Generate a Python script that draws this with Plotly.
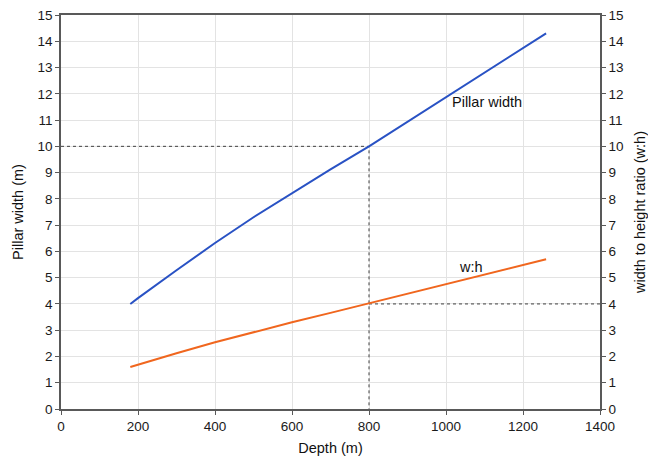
import plotly.graph_objects as go

depth = [180, 200, 300, 400, 500, 600, 700, 800, 900, 1000, 1100, 1200, 1260]
pillar_width = [4.0, 4.22, 5.28, 6.32, 7.3, 8.22, 9.12, 10.0, 10.94, 11.87, 12.8, 13.73, 14.3]
wh_ratio = [1.6, 1.69, 2.12, 2.54, 2.93, 3.3, 3.66, 4.02, 4.38, 4.74, 5.1, 5.46, 5.7]

ref_depth = 800
ref_width = 10
ref_ratio = 4
x_max = 1400

font = "Liberation Sans"
grid = "#e3e3e3"
axis_col = "#595959"

fig = go.Figure()
# reference dotted lines
fig.add_trace(go.Scatter(x=[0, ref_depth, ref_depth], y=[ref_width, ref_width, 0], mode="lines",
                         line=dict(color="#404040", width=1, dash="dot"), hoverinfo="skip"))
fig.add_trace(go.Scatter(x=[ref_depth, x_max], y=[ref_ratio, ref_ratio], mode="lines",
                         line=dict(color="#404040", width=1, dash="dot"), yaxis="y2", hoverinfo="skip"))
fig.add_trace(go.Scatter(x=depth, y=pillar_width, mode="lines", name="Pillar width",
                         line=dict(color="#2952c4", width=2)))
fig.add_trace(go.Scatter(x=depth, y=wh_ratio, mode="lines", name="w:h", yaxis="y2",
                         line=dict(color="#f0661e", width=2)))

fig.add_annotation(x=1106, y=11.7, text="Pillar width", showarrow=False,
                   font=dict(family=font, size=14.5, color="#111"))
fig.add_annotation(x=1066, y=5.42, text="w:h", showarrow=False,
                   font=dict(family=font, size=14.5, color="#111"))

axis_common = dict(showline=True, linecolor=axis_col, linewidth=1.5, ticks="outside",
                   ticklen=4, tickcolor=axis_col, automargin=False,
                   tickfont=dict(family=font, size=13.5, color="#1a1a1a"))

title_font = dict(family=font, size=14.5, color="#111")

fig.update_layout(
    width=648, height=456,
    margin=dict(l=61, r=48, t=15, b=47),
    plot_bgcolor="white", paper_bgcolor="white",
    showlegend=False,
    xaxis=dict(range=[0, x_max], dtick=200, showgrid=True, gridcolor=grid, zeroline=False,
               mirror=True,
               title=dict(text="Depth (m)", font=title_font, standoff=14),
               **axis_common),
    yaxis=dict(range=[0, 15], dtick=1, showgrid=True, gridcolor=grid, zeroline=False,
               title=dict(text="Pillar width (m)", font=title_font, standoff=10),
               **axis_common),
    yaxis2=dict(range=[0, 15], dtick=1, overlaying="y", side="right", showgrid=False, zeroline=False,
                title=dict(text="width to height ratio (w:h)", font=title_font, standoff=22),
                **axis_common),
)

fig.write_html("out.html")
